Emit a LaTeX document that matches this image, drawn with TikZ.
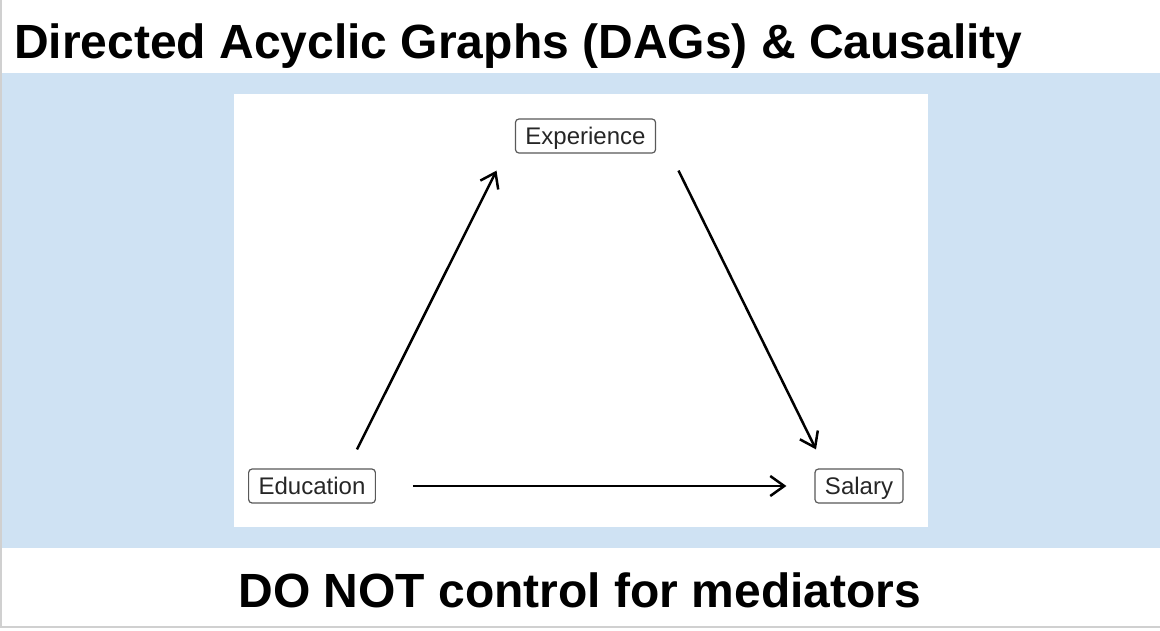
\documentclass[tikz,border=0pt]{standalone}
\usepackage{fontspec}
\setmainfont{Liberation Sans}
\usetikzlibrary{arrows.meta,calc}
\definecolor{bandblue}{HTML}{CFE2F3}
\definecolor{frame}{HTML}{D0D0D0}
\definecolor{nodetext}{HTML}{262626}
\tikzset{
  dagnode/.style={draw=black!65, line width=1.2pt, rounded corners=3.5pt, fill=white,
    text=nodetext, font=\fontsize{24}{27}\selectfont, inner xsep=10pt, inner ysep=0pt,
    text height=20pt, text depth=3pt, minimum height=34pt, anchor=center},
  arr/.style={line width=2.5pt, -{Straight Barb[length=14pt,width=20pt,line width=2.5pt]}},
  heading/.style={font=\bfseries\fontsize{48}{53}\selectfont, inner sep=0pt}
}
\begin{document}
\begin{tikzpicture}[x=1pt,y=-1pt]
\useasboundingbox (0,0) rectangle (1160,630);
\fill[white] (0,0) rectangle (1160,630);
\draw[frame, line width=1.5pt] (1,-2) -- (1,627) -- (1162,627);
\fill[bandblue] (2,73) rectangle (1160,548);
\fill[white] (234,94) rectangle (928,527);
\node[heading, anchor=base west] (title) at (14,58) {Directed Acyclic Graphs (DAGs) \& Causality};
\node[heading, anchor=base] (foot) at (580,607) {DO NOT control for mediators};
\node[dagnode] (exp) at (585.5,136) {Experience};
\node[dagnode] (edu) at (312,486) {Education};
\node[dagnode] (sal) at (859,486) {Salary};
\draw[arr] ($(edu.north)+(45,-19)$) -- ($(exp.south)+(-89,17)$);
\draw[arr] ($(exp.south)+(93,17)$) -- ($(sal.north)+(-43,-19)$);
\draw[arr] ($(edu.east)+(37,0)$) -- ($(sal.west)+(-28,0)$);
\end{tikzpicture}
\end{document}
